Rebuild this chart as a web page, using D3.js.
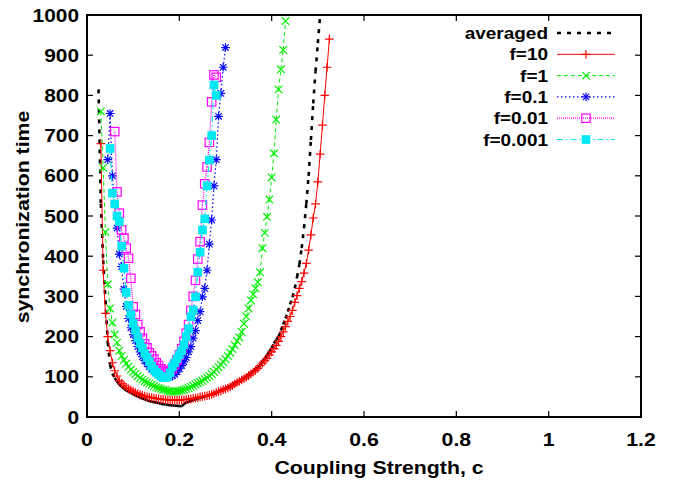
<!DOCTYPE html>
<html>
<head>
<meta charset="utf-8">
<script src="https://cdn.jsdelivr.net/npm/d3@7"></script>
<style>
  body { margin: 0; background: #fff; }
  svg { display: block; }
  text { font-family: "Liberation Sans", Arial, Helvetica, sans-serif; font-weight: bold; fill: #000; }
</style>
</head>
<body>
<script>
var width = 681;
var height = 487;

// coupling strength c vs synchronization time
var averaged = [[0.025,815],[0.030,530],[0.035,390],[0.040,290],[0.045,185],[0.050,130],[0.055,108],[0.060,97],
  [0.065,88],[0.070,81],[0.075,76],[0.080,71],[0.085,66],[0.090,63],[0.095,60],[0.100,57],[0.105,54],[0.110,51],
  [0.115,48],[0.120,46],[0.125,44],[0.130,42],[0.135,40],[0.140,38],[0.145,37],[0.150,36],[0.155,35],[0.160,33],
  [0.165,32],[0.170,31],[0.175,30],[0.180,29],[0.185,29],[0.190,28],[0.195,28],[0.200,27],[0.205,27],[0.210,32],
  [0.215,36],[0.220,38],[0.225,40],[0.230,42],[0.235,44],[0.240,46],[0.245,48],[0.250,49],[0.255,51],[0.260,53],
  [0.265,55],[0.270,57],[0.275,59],[0.280,61],[0.285,64],[0.290,66],[0.295,69],[0.300,72],[0.305,75],[0.310,78],
  [0.315,81],[0.320,84],[0.325,87],[0.330,90],[0.335,93],[0.340,97],[0.345,101],[0.350,105],[0.355,109],[0.360,113],
  [0.365,118],[0.370,123],[0.375,129],[0.380,137],[0.385,145],[0.390,154],[0.395,163],[0.400,172],[0.405,183],
  [0.410,192],[0.415,200],[0.420,215],[0.425,230],[0.430,245],[0.435,262],[0.440,280],[0.445,298],[0.450,320],
  [0.455,348],[0.460,380],[0.465,420],[0.470,470],[0.475,530],[0.480,600],[0.485,689],[0.490,780],[0.495,860],
  [0.500,930],[0.505,1000],[0.510,1080]];

var f10 = [[0.030,680],[0.035,365],[0.040,258],[0.045,200],[0.050,165],[0.055,135],[0.060,115],[0.065,102],
  [0.070,90],[0.075,84],[0.080,79],[0.085,74],[0.090,70],[0.095,67],[0.100,64],[0.105,61],[0.110,58],[0.115,56],
  [0.120,54],[0.125,52],[0.130,50],[0.135,49],[0.140,48],[0.145,47],[0.150,46],[0.155,45],[0.160,44],[0.165,44],
  [0.170,43],[0.175,43],[0.180,42],[0.185,42],[0.190,42],[0.195,42],[0.200,42],[0.205,43],[0.210,43],[0.215,44],
  [0.220,44],[0.225,45],[0.230,46],[0.235,47],[0.240,48],[0.245,50],[0.250,51],[0.255,52],[0.260,53],[0.265,54],
  [0.270,56],[0.275,58],[0.280,61],[0.285,63],[0.290,65],[0.295,68],[0.300,70],[0.305,72],[0.310,75],[0.315,78],
  [0.320,82],[0.325,86],[0.330,89],[0.335,92],[0.340,95],[0.345,99],[0.350,103],[0.355,107],[0.360,112],[0.365,116],
  [0.370,121],[0.375,128],[0.380,134],[0.385,140],[0.390,146],[0.395,154],[0.400,162],[0.405,170],[0.410,178],
  [0.415,188],[0.420,200],[0.425,212],[0.430,225],[0.435,238],[0.440,250],[0.445,265],[0.450,285],[0.455,302],
  [0.460,320],[0.465,337],[0.470,358],[0.475,382],[0.480,415],[0.485,453],[0.490,495],[0.495,530],[0.500,585],
  [0.505,654],[0.510,726],[0.515,800],[0.520,870],[0.525,940]];

var f1 = [[0.030,760],[0.035,620],[0.040,460],[0.045,330],[0.050,270],[0.055,235],[0.060,205],[0.065,185],
  [0.070,165],[0.075,152],[0.080,142],[0.085,133],[0.090,125],[0.095,118],[0.100,112],[0.105,107],[0.110,102],
  [0.115,97],[0.120,93],[0.125,89],[0.130,86],[0.135,83],[0.140,80],[0.145,77],[0.150,74],[0.155,72],[0.160,70],
  [0.165,68],[0.170,67],[0.175,65],[0.180,64],[0.185,63],[0.190,63],[0.195,64],[0.200,65],[0.205,66],[0.210,68],
  [0.215,70],[0.220,72],[0.225,75],[0.230,78],[0.235,81],[0.240,84],[0.245,87],[0.250,90],[0.255,94],[0.260,98],
  [0.265,102],[0.270,107],[0.275,112],[0.280,118],[0.285,124],[0.290,130],[0.295,137],[0.300,144],[0.305,152],
  [0.310,160],[0.315,169],[0.320,179],[0.325,189],[0.330,198],[0.335,212],[0.340,232],[0.345,250],[0.350,270],
  [0.355,290],[0.360,305],[0.365,320],[0.370,335],[0.375,360],[0.380,420],[0.385,458],[0.390,498],[0.395,541],
  [0.400,596],[0.405,656],[0.410,740],[0.415,815],[0.420,865],[0.425,913],[0.430,985]];

var f01 = [[0.045,640],[0.050,755],[0.055,600],[0.060,530],[0.065,470],[0.070,405],[0.075,374],[0.080,318],
  [0.085,275],[0.090,245],[0.095,222],[0.100,205],[0.105,190],[0.110,175],[0.115,162],[0.120,150],[0.125,140],
  [0.130,132],[0.135,125],[0.140,119],[0.145,114],[0.150,110],[0.155,106],[0.160,103],[0.165,101],[0.170,100],
  [0.175,100],[0.180,100],[0.185,102],[0.190,106],[0.195,112],[0.200,120],[0.205,128],[0.210,137],[0.215,148],
  [0.220,162],[0.225,175],[0.230,196],[0.235,215],[0.240,240],[0.245,262],[0.250,299],[0.255,320],[0.260,365],
  [0.265,430],[0.270,490],[0.275,575],[0.280,640],[0.285,748],[0.290,805],[0.295,870],[0.300,919]];

var f001 = [[0.060,710],[0.065,560],[0.070,507],[0.075,465],[0.080,445],[0.085,420],[0.090,395],[0.095,345],
  [0.100,274],[0.105,255],[0.110,230],[0.115,212],[0.120,196],[0.125,182],[0.130,172],[0.135,160],[0.140,152],
  [0.145,144],[0.150,135],[0.155,128],[0.160,120],[0.165,116],[0.170,112],[0.175,110],[0.180,112],[0.185,120],
  [0.190,130],[0.195,142],[0.200,155],[0.205,170],[0.210,188],[0.215,208],[0.220,230],[0.225,265],[0.230,300],
  [0.235,340],[0.240,393],[0.245,436],[0.250,527],[0.255,580],[0.260,622],[0.265,683],[0.270,784],[0.275,851],
  [0.280,845]];

var f0001 = [[0.050,668],[0.055,557],[0.060,530],[0.065,500],[0.070,486],[0.075,425],[0.080,370],[0.085,310],
  [0.090,278],[0.095,255],[0.100,233],[0.105,215],[0.110,197],[0.115,183],[0.120,172],[0.125,158],[0.130,148],
  [0.135,138],[0.140,127],[0.145,118],[0.150,111],[0.155,106],[0.160,101],[0.165,98],[0.170,98],[0.175,100],
  [0.180,110],[0.185,125],[0.190,135],[0.195,145],[0.200,155],[0.205,165],[0.210,180],[0.215,200],[0.220,220],
  [0.225,249],[0.230,266],[0.235,299],[0.240,360],[0.245,410],[0.250,465],[0.255,493],[0.260,575],[0.265,639],
  [0.270,700],[0.275,826],[0.280,800]];

var xTickValues = [0, 0.2, 0.4, 0.6, 0.8, 1, 1.2];
var xTickLabels = ["0", "0.2", "0.4", "0.6", "0.8", "1", "1.2"];
var yTickValues = [0, 100, 200, 300, 400, 500, 600, 700, 800, 900, 1000];

var series = [
  { name: "averaged", data: averaged, color: "#000", width: 2.6, dash: "4,6", marker: null },
  { name: "f=10", data: f10, color: "#ff0000", width: 1, dash: null, marker: "plus" },
  { name: "f=1", data: f1, color: "#00f000", width: 1, dash: "4,3", marker: "cross" },
  { name: "f=0.1", data: f01, color: "#0000ff", width: 1.2, dash: "1.5,2.5", marker: "star" },
  { name: "f=0.01", data: f001, color: "#ff00ff", width: 1.2, dash: "1,1", marker: "box" },
  { name: "f=0.001", data: f0001, color: "#00e8f2", width: 1.2, dash: "6,3,1.5,3", marker: "fbox" }
];

var svg = d3.select("body").append("svg")
  .attr("width", width)
  .attr("height", height);

var x = d3.scaleLinear().domain([0, 1.2]).range([87, 641]);
var y = d3.scaleLinear().domain([0, 1000]).range([417, 15]);

svg.append("clipPath").attr("id", "plotclip")
  .append("rect")
  .attr("x", 87).attr("y", 15)
  .attr("width", 554).attr("height", 402);

function label(g, px, py, str, anchor, size, sx, rot) {
  return g.append("text")
    .attr("transform", "translate(" + px + "," + py + ")" + (rot ? " rotate(" + rot + ")" : "") + " scale(" + sx + ",1)")
    .attr("text-anchor", anchor)
    .style("font-size", size + "px")
    .text(str);
}

// ticks, mirrored on all four sides, pointing in
var tickLen = 6;
var axes = svg.append("g").attr("stroke", "#000").attr("stroke-width", 1.2);
xTickValues.forEach(function(v) {
  axes.append("line").attr("x1", x(v)).attr("x2", x(v)).attr("y1", y(0)).attr("y2", y(0) - tickLen);
  axes.append("line").attr("x1", x(v)).attr("x2", x(v)).attr("y1", y(1000)).attr("y2", y(1000) + tickLen);
});
yTickValues.forEach(function(v) {
  axes.append("line").attr("x1", x(0)).attr("x2", x(0) + tickLen).attr("y1", y(v)).attr("y2", y(v));
  axes.append("line").attr("x1", x(1.2)).attr("x2", x(1.2) - tickLen).attr("y1", y(v)).attr("y2", y(v));
});

xTickValues.forEach(function(v, i) {
  label(svg, x(v), 446, xTickLabels[i], "middle", 18.5, 1.15);
});
yTickValues.forEach(function(v) {
  label(svg, 79, y(v) + 6.5, String(v), "end", 18.5, 1.13);
});

label(svg, 379, 474, "Coupling Strength, c", "middle", 18.5, 1.15);
label(svg, 29, 217, "synchronization time", "middle", 18.5, 1.15, -90);

function drawMarker(g, kind, cx, cy, color) {
  var s = 4.3;
  if (kind === "plus" || kind === "star") {
    g.append("path")
      .attr("d", "M" + (cx - s) + "," + cy + "H" + (cx + s) + "M" + cx + "," + (cy - s) + "V" + (cy + s))
      .attr("stroke", color).attr("stroke-width", 1.2).attr("fill", "none");
  }
  if (kind === "cross" || kind === "star") {
    var k = kind === "star" ? 3.2 : 3.8;
    g.append("path")
      .attr("d", "M" + (cx - k) + "," + (cy - k) + "L" + (cx + k) + "," + (cy + k) +
        "M" + (cx - k) + "," + (cy + k) + "L" + (cx + k) + "," + (cy - k))
      .attr("stroke", color).attr("stroke-width", 1.2).attr("fill", "none");
  }
  if (kind === "box") {
    g.append("rect").attr("x", cx - 4.2).attr("y", cy - 4.2).attr("width", 8.4).attr("height", 8.4)
      .attr("fill", "none").attr("stroke", color).attr("stroke-width", 1.2);
  }
  if (kind === "fbox") {
    g.append("rect").attr("x", cx - 4.3).attr("y", cy - 4.3).attr("width", 8.6).attr("height", 8.6)
      .attr("fill", color);
  }
}

// curves: every segment is its own line so the dash pattern restarts (as in the original)
var plot = svg.append("g").attr("clip-path", "url(#plotclip)");
series.forEach(function(s) {
  var g = plot.append("g");
  for (var i = 1; i < s.data.length; i++) {
    g.append("line")
      .attr("x1", x(s.data[i - 1][0])).attr("y1", y(s.data[i - 1][1]))
      .attr("x2", x(s.data[i][0])).attr("y2", y(s.data[i][1]))
      .attr("stroke", s.color)
      .attr("stroke-width", s.width)
      .attr("stroke-dasharray", s.dash);
  }
  if (s.marker) {
    s.data.forEach(function(d) { drawMarker(g, s.marker, x(d[0]), y(d[1]), s.color); });
  }
});

// legend
var legend = svg.append("g");
series.forEach(function(s, i) {
  var ly = 33 + i * 21.3;
  label(legend, 548, ly + 6, s.name, "end", 16.5, 1.15);
  legend.append("line")
    .attr("x1", 557).attr("x2", 615).attr("y1", ly).attr("y2", ly)
    .attr("stroke", s.color).attr("stroke-width", s.width)
    .attr("stroke-dasharray", s.dash);
  if (s.marker) drawMarker(legend, s.marker, 586, ly, s.color);
});

// frame
svg.append("rect")
  .attr("x", 87).attr("y", 15)
  .attr("width", 554).attr("height", 402)
  .attr("fill", "none").attr("stroke", "#000").attr("stroke-width", 2);
</script>
</body>
</html>
